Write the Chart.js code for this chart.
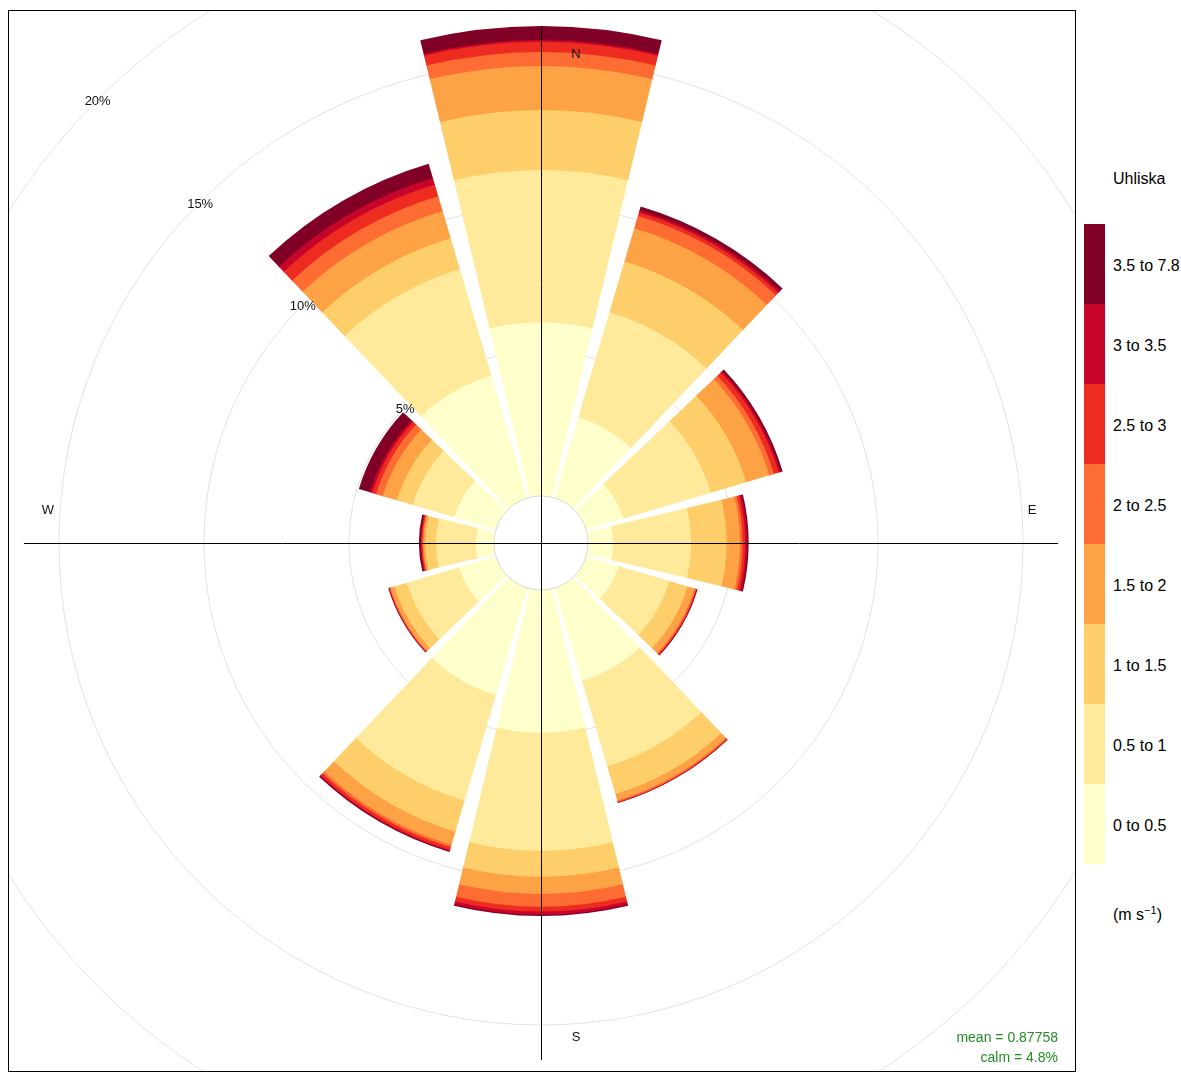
<!DOCTYPE html>
<html>
<head>
<meta charset="utf-8">
<script src="https://cdn.jsdelivr.net/npm/chart.js@4.4.1/dist/chart.umd.min.js"></script>
<style>
  body { margin: 0; background: #fff; font-family: 'Liberation Sans', Arial, sans-serif; }
  #plot { position: absolute; left: 8px; top: 10px; width: 1066px; height: 1060px; border: 1px solid #000; overflow: hidden; }
  #rose { position: absolute; left: -368px; top: -368px; }
  #stats { position: absolute; right: 17px; top: 1016px; color: #228b22; font-size: 14px; line-height: 20px; text-align: right; }
  #legend { position: absolute; left: 1084px; top: 224px; }
  .seg { position: absolute; left: 0; width: 21px; height: 80px; }
  .lab { position: absolute; left: 29px; font-size: 16px; line-height: 20px; white-space: nowrap; color: #000; }
  #ltitle { position: absolute; left: 1113px; top: 170px; font-size: 16px; }
  #lunits { position: absolute; left: 1113px; top: 904px; font-size: 16px; }
  #lunits sup { font-size: 11px; }
</style>
</head>
<body>
<div id="plot">
  <canvas id="rose" width="1800" height="1800"></canvas>
  <div id="stats">mean = 0.87758<br>calm = 4.8%</div>
</div>
<div id="ltitle">Uhliska</div>
<div id="legend"></div>
<div id="lunits">(m s<sup>−1</sup>)</div>
<script>
// wind directions (degrees) and speed bins
const directions = [0, 30, 60, 90, 120, 150, 180, 210, 240, 270, 300, 330];
const speedBins = ['0 to 0.5', '0.5 to 1', '1 to 1.5', '1.5 to 2', '2 to 2.5', '2.5 to 3', '3 to 3.5', '3.5 to 7.8'];
const binColours = ['#FFFFCC', '#FFEA9C', '#FECE6B', '#FDA345', '#FD6C33', '#EE2B21', '#C70429', '#800026'];

// frequency (%) of each speed bin per direction
const freq_0_05   = [5.99, 2.89, 1.34, 0.87, 1.17, 3.33, 4.92, 3.85, 1.32, 0.62, 1.50, 4.40];
const freq_05_1   = [5.25, 3.79, 3.15, 2.68, 1.83, 3.08, 4.07, 3.80, 1.88, 1.38, 1.50, 3.82];
const freq_1_15   = [2.07, 1.82, 1.27, 1.23, 0.65, 1.00, 0.90, 1.11, 0.45, 0.37, 0.56, 1.12];
const freq_15_2   = [1.52, 1.20, 0.83, 0.46, 0.25, 0.23, 0.59, 0.48, 0.14, 0.07, 0.51, 0.98];
const freq_2_25   = [0.48, 0.45, 0.17, 0.09, 0.05, 0.05, 0.44, 0.08, 0.03, 0.03, 0.24, 0.53];
const freq_25_3   = [0.35, 0.12, 0.17, 0.09, 0.03, 0.02, 0.17, 0.10, 0.02, 0.04, 0.14, 0.42];
const freq_3_35   = [0.06, 0.08, 0.07, 0.07, 0.01, 0.01, 0.11, 0.04, 0.01, 0.02, 0.08, 0.24];
const freq_35_78  = [0.49, 0.13, 0.07, 0.05, 0.02, 0.01, 0.04, 0.03, 0.02, 0.06, 0.40, 0.51];

const ringValues = [5, 10, 15, 20];
const ringLabels = ['5%', '10%', '15%', '20%'];
const dirLabels = ['N', 'E', 'S', 'W'];

const bins = [freq_0_05, freq_05_1, freq_1_15, freq_15_2, freq_2_25, freq_25_3, freq_3_35, freq_35_78];

// stacked totals per direction
const cumulative = [];
bins.forEach((b, i) => {
  cumulative.push(b.map((v, d) => v + (i ? cumulative[i - 1][d] : 0)));
});
const maxFreq = Math.max(...cumulative[cumulative.length - 1]);
const offSet = maxFreq * 0.1;           // hole in the middle
const sector = 30, seg = 0.9;
const rMin = -offSet;
const rMax = rMin + 900 / 29;

const datasets = cumulative.map((vals, i) => {
  const data = [], base = [];
  vals.forEach((v, d) => {
    data.push(v); data.push(rMin);
    base.push(i ? cumulative[i - 1][d] : 0); base.push(null);
  });
  return {
    label: speedBins[i],
    data: data,
    base: base,
    backgroundColor: data.map((v, k) => k % 2 === 0 ? binColours[i] : 'rgba(0,0,0,0)'),
    borderWidth: 0,
    angle: ctx => ctx.dataIndex % 2 === 0 ? sector * seg : sector * (1 - seg)
  };
});

const labels = [];
directions.forEach(d => { labels.push(String(d)); labels.push(''); });

// each band starts where the one below it ends (1px overlap)
const stackBase = {
  id: 'stackBase',
  afterDatasetUpdate(chart, args) {
    const r = chart.scales.r;
    const base = chart.data.datasets[args.index].base;
    args.meta.data.forEach((arc, k) => {
      if (base[k] !== null) {
        arc.innerRadius = Math.max(0, r.getDistanceFromCenterForValue(base[k]) - 1);
      }
    });
  }
};

const roseDecor = {
  id: 'roseDecor',
  afterDatasetsDraw(chart) {
    const r = chart.scales.r;
    const ctx = chart.ctx;
    const cx = r.xCenter, cy = r.yCenter;
    const hole = r.getDistanceFromCenterForValue(0);
    const axisLen = r.getDistanceFromCenterForValue(maxFreq);
    ctx.save();
    ctx.beginPath();
    ctx.arc(cx, cy, hole, 0, Math.PI * 2);
    ctx.fillStyle = '#fff';
    ctx.fill();
    ctx.strokeStyle = '#d9d9d9';
    ctx.lineWidth = 1;
    ctx.stroke();

    ctx.strokeStyle = '#000';
    ctx.beginPath();
    ctx.moveTo(cx - axisLen, cy + 0.5);
    ctx.lineTo(cx + axisLen, cy + 0.5);
    ctx.moveTo(cx + 0.5, cy - axisLen);
    ctx.lineTo(cx + 0.5, cy + axisLen);
    ctx.stroke();

    ctx.fillStyle = '#111';
    ctx.font = "13px 'Liberation Sans', Arial, sans-serif";
    ctx.textAlign = 'center';
    ctx.textBaseline = 'middle';
    ringValues.forEach((v, i) => {
      const d = r.getDistanceFromCenterForValue(v) * Math.SQRT1_2;
      ctx.fillText(ringLabels[i], cx - d, cy - d + 2);
    });

    ctx.fillText(dirLabels[0], cx + 35, cy - 489);
    ctx.fillText(dirLabels[1], cx + 491, cy - 33);
    ctx.fillText(dirLabels[2], cx + 35, cy + 494);
    ctx.fillText(dirLabels[3], cx - 493, cy - 33);
    ctx.restore();
  }
};

new Chart(document.getElementById('rose'), {
  type: 'polarArea',
  data: { labels: labels, datasets: datasets },
  options: {
    responsive: false,
    animation: false,
    events: [],
    layout: { padding: 0 },
    plugins: { legend: { display: false }, tooltip: { enabled: false } },
    scales: {
      r: {
        min: rMin,
        max: rMax,
        startAngle: -sector * seg / 2,
        ticks: { display: false, stepSize: 5 },
        grid: {
          circular: true,
          lineWidth: 1,
          color: c => ringValues.includes(c.tick.value) ? '#e2e2e2' : 'rgba(0,0,0,0)'
        },
        angleLines: { display: false },
        pointLabels: { display: false }
      }
    }
  },
  plugins: [stackBase, roseDecor]
});

// colour key
const legend = document.getElementById('legend');
for (let i = speedBins.length - 1; i >= 0; i--) {
  const pos = speedBins.length - 1 - i;
  const s = document.createElement('div');
  s.className = 'seg';
  s.style.top = (pos * 80) + 'px';
  s.style.background = binColours[i];
  legend.appendChild(s);
  const l = document.createElement('div');
  l.className = 'lab';
  l.style.top = (pos * 80 + 32) + 'px';
  l.textContent = speedBins[i];
  legend.appendChild(l);
}
</script>
</body>
</html>
